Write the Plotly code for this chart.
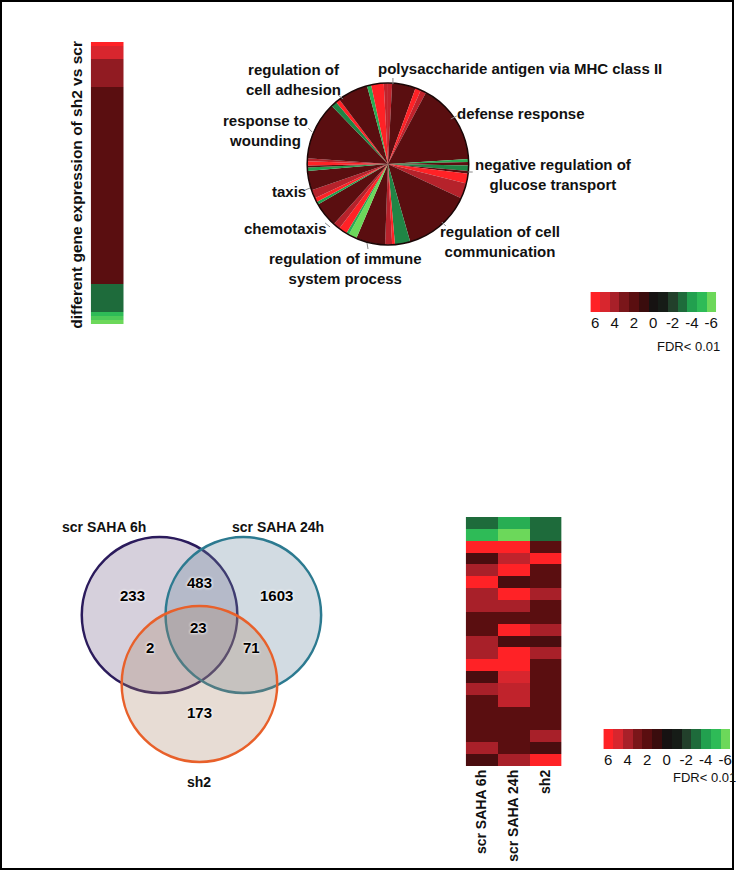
import plotly.graph_objects as go
from plotly.colors import sample_colorscale

W, H = 736, 871
FONT = "Liberation Sans"

# ---------------- data ----------------
# shared fold-change colour scale (value -> colour)
scale_values = [-6, -5, -4, -3, -2, -1, 0, 1, 2, 3, 4, 5, 6]
scale_colors = ['rgb(108,216,90)', 'rgb(46,187,87)', 'rgb(34,160,79)', 'rgb(30,107,59)',
                'rgb(34,64,43)', 'rgb(22,28,23)', 'rgb(22,18,18)', 'rgb(58,12,13)',
                'rgb(90,14,16)', 'rgb(122,22,26)', 'rgb(168,32,41)', 'rgb(216,38,46)',
                'rgb(255,34,38)']
colorbar_ticks = [6, 4, 2, 0, -2, -4, -6]

# column: different gene expression of sh2 vs scr (percent-of-genes bounds, top -> bottom)
col_bounds = [0, 1.4, 6.0, 16.0, 85.8, 95.7, 97.2, 98.6, 100]
col_values = [6, 5, 3.5, 2, -3, -5, -5.5, -6]

# pie of GO terms: slice sizes (clockwise from 12 o'clock) and fold-change values
pie_sizes = [3, 17, 4, 4, 58.5, 2, 2.5, 4, 2, 7, 11, 49, 11, 2, 5, 21, 6, 2, 6, 5, 18,
             2, 3, 6, 14, 2.5, 1.5, 3, 2, 42, 4, 3, 22, 3, 9, 3]
pie_values = [4.5, 2, 6, 4.5, 2, -4.5, 2, -3.5, 2, 6, 4.3, 2, -3.5, 6, 4.3, 2, -6, -4.5, 6, 4.3, 2,
              -4, 6, 4.3, 2, -4, 2, 6, 4.3, 2, -3.5, 6, 2, -4.5, 6, 4.5]
pie_terms = ["regulation of<br>cell adhesion", "polysaccharide antigen via MHC class II",
             "defense response", "response to<br>wounding",
             "negative regulation of<br>glucose transport", "taxis", "chemotaxis",
             "regulation of cell<br>communication", "regulation of immune<br>system process"]

# venn diagram
venn_sets = ["scr SAHA 6h", "scr SAHA 24h", "sh2"]
venn_counts = [233, 483, 1603, 23, 2, 71, 173]

# heatmap of shared genes: rows top -> bottom, columns = venn_sets
heat_rows = [
    [-3, -4.5, -3], [-5, -6, -3], [6, 6, 2], [1.5, 4.5, 6], [4, 6, 2], [6, 1.5, 2],
    [4, 6, 4], [4, 4, 2], [2, 2, 2], [2, 6, 4], [4, 1.5, 1.5], [4, 6, 4], [6, 6, 2],
    [1.5, 5, 2], [4, 4.5, 2], [2, 4.5, 2], [2, 2, 2], [2, 2, 2], [2, 2, 4], [4, 2, 1.5],
    [1.5, 4, 6],
]

# ---------------- helpers ----------------
def px(x):
    return x / W


def py(y):
    return 1 - y / H


def note(text, x, y, size, bold=True, angle=0, **extra):
    font = dict(family=FONT, size=size, color="#111")
    if bold:
        font["weight"] = "bold"
    font.update(extra.pop("font", {}))
    d = dict(x=px(x), y=py(y), xref="paper", yref="paper", showarrow=False, text=text,
             xanchor="center", yanchor="middle", align="center", textangle=angle, font=font)
    d.update(extra)
    return d


colorscale = [[(v + 6) / 12, c] for v, c in zip(scale_values, scale_colors)]
pie_colors = sample_colorscale(colorscale, [(v + 6) / 12 for v in pie_values])

fig = go.Figure()

# column heatmap
fig.add_trace(go.Heatmap(z=[[v] for v in col_values], x=[0, 1], y=col_bounds,
                         colorscale=colorscale, zmin=-6, zmax=6, showscale=False,
                         hoverinfo="skip", xaxis="x", yaxis="y"))

# top colour key
fig.add_trace(go.Heatmap(z=[scale_values[::-1]], x=scale_values[::-1], y=[0],
                         colorscale=colorscale, zmin=-6, zmax=6, showscale=False,
                         hoverinfo="skip", xaxis="x2", yaxis="y2"))

# bottom heatmap
fig.add_trace(go.Heatmap(z=heat_rows, x=venn_sets, y=list(range(len(heat_rows))),
                         colorscale=colorscale, zmin=-6, zmax=6, showscale=False,
                         hoverinfo="skip", xaxis="x3", yaxis="y3"))

# bottom colour key
fig.add_trace(go.Heatmap(z=[scale_values[::-1]], x=scale_values[::-1], y=[0],
                         colorscale=colorscale, zmin=-6, zmax=6, showscale=False,
                         hoverinfo="skip", xaxis="x4", yaxis="y4"))

# pie
PCX, PCY, PR = 389, 164, 81
fig.add_trace(go.Pie(values=pie_sizes, sort=False, direction="clockwise", rotation=0,
                     marker=dict(colors=pie_colors, line=dict(width=0)),
                     textinfo="none", hoverinfo="skip", showlegend=False,
                     domain=dict(x=[px(PCX - PR), px(PCX + PR)], y=[py(PCY + PR), py(PCY - PR)])))

hidden = dict(showgrid=False, zeroline=False, showticklabels=False, ticks="", showline=False)
key_x = dict(autorange="reversed", tickvals=colorbar_ticks,
             ticktext=[str(t) for t in colorbar_ticks], ticks="", showgrid=False,
             zeroline=False, showline=False, tickfont=dict(family=FONT, size=15, color="#111"))

fig.update_layout(
    width=W, height=H, margin=dict(l=0, r=0, t=0, b=0),
    paper_bgcolor="white", plot_bgcolor="white", showlegend=False,
    xaxis=dict(domain=[px(91), px(124)], anchor="y", range=[0, 1], **hidden),
    yaxis=dict(domain=[py(324), py(42)], anchor="x", range=[100, 0], **hidden),
    xaxis2=dict(domain=[px(592), px(718)], anchor="y2", **key_x),
    yaxis2=dict(domain=[py(312), py(292)], anchor="x2", **hidden),
    xaxis3=dict(domain=[px(467), px(563)], anchor="y3", tickangle=-90, ticks="",
                showgrid=False, zeroline=False, showline=False,
                tickfont=dict(family=FONT, size=14, color="#111", weight="bold")),
    yaxis3=dict(domain=[py(766), py(517)], anchor="x3", autorange="reversed", **hidden),
    xaxis4=dict(domain=[px(605), px(732)], anchor="y4", **key_x),
    yaxis4=dict(domain=[py(749), py(729)], anchor="x4", **hidden),
)

shapes = []
annotations = []

# frame
shapes.append(dict(type="rect", xref="paper", yref="paper", x0=px(1), x1=px(735),
                   y0=py(869), y1=py(1), line=dict(color="black", width=2)))
# pie outline
shapes.append(dict(type="circle", xref="paper", yref="paper", x0=px(PCX - PR), x1=px(PCX + PR),
                   y0=py(PCY + PR), y1=py(PCY - PR), line=dict(color="#1a0606", width=1.5)))

# rotated column label
annotations.append(note("different gene expression of sh2 vs scr", 77, 185, 15.5, angle=-90))

# pie labels (x, y centre in px) and small leader ticks
pie_label_pos = [(294, 79), (521, 68), (522, 113), (266, 130), (555, 175), (290, 191),
                 (286, 228), (501, 241), (346, 268)]
leader_ticks = [((339, 95), (344, 99)), ((394, 78), (394, 84)), ((452, 119), (458, 116)),
                ((309, 128), (313, 132)), ((469, 172), (474, 172)), ((306, 190), (311, 188)),
                ((326, 223), (331, 227)), ((368, 243), (369, 249)), ((443, 222), (447, 226))]
for term, (lx, ly) in zip(pie_terms, pie_label_pos):
    annotations.append(note(term, lx, ly, 15))
for (a, b) in leader_ticks:
    shapes.append(dict(type="line", xref="paper", yref="paper", x0=px(a[0]), y0=py(a[1]),
                       x1=px(b[0]), y1=py(b[1]), line=dict(color="#888", width=1)))

# FDR notes
annotations.append(note("FDR< 0.01", 690, 347, 13, bold=False))
annotations.append(note("FDR< 0.01", 673, 777, 13, bold=False, xanchor="left"))

# venn circles
R = 78
venn_circles = [(160, 615, "rgba(120,100,140,0.30)", "#2b1b5c"),
                (244, 615, "rgba(105,135,160,0.30)", "#2c7a90"),
                (200, 684, "rgba(170,130,100,0.28)", "#e8602a")]
for cx, cy, fill, line in venn_circles:
    shapes.append(dict(type="circle", xref="paper", yref="paper", x0=px(cx - R), x1=px(cx + R),
                       y0=py(cy + R), y1=py(cy - R), fillcolor=fill,
                       line=dict(color=line, width=2.5)))

venn_set_pos = [(104, 527), (279, 527), (200, 782)]
for name, (lx, ly) in zip(venn_sets, venn_set_pos):
    annotations.append(note(name, lx, ly, 14))

venn_count_pos = [(133, 595), (200, 582), (277, 595), (199, 627), (150, 647), (252, 647), (200, 712)]
for n, (lx, ly) in zip(venn_counts, venn_count_pos):
    annotations.append(note(str(n), lx, ly, 15,
                            font=dict(color="#000",
                                      shadow="0px 0px 3px white, 0px 0px 3px white")))

fig.update_layout(shapes=shapes, annotations=annotations)
fig.write_html("out.html", config={"displayModeBar": False},
               post_script="document.body.style.margin='0px';")
